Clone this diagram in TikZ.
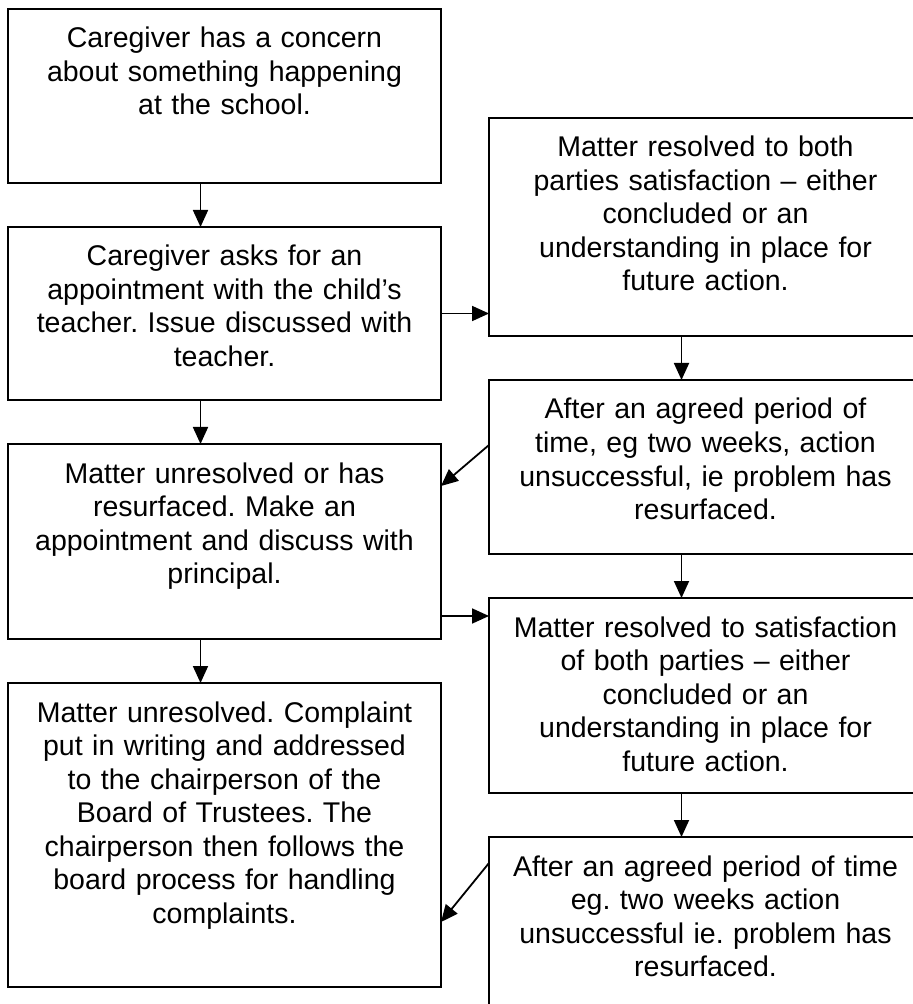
\documentclass[tikz,border=0pt]{standalone}
\usepackage{fontspec}
\setmainfont{Liberation Sans}
\usepackage{tikz}
\usetikzlibrary{arrows.meta, positioning}
\frenchspacing
\tikzstyle{process} = [rectangle, draw=black, line width=1pt, outer sep=0pt, minimum width=216.5pt, text width=208.5pt, inner xsep=4pt, inner ysep=0pt, align=center, font=\fontsize{14.25pt}{16.75pt}\selectfont, text height=19.5pt]
\tikzstyle{arrow} = [line width=0.9pt, -{Triangle[length=8.5pt, width=7.5pt]}]

\begin{document}
\begin{tikzpicture}[node distance=22pt]
\useasboundingbox (0,0) rectangle (456pt,-502pt);

\node (concern) [process, anchor=north west, text depth=67.5pt] at (4pt,-4.5pt) {Caregiver has a concern\\about something happening\\at the school.};
\node (teacher) [process, below=of concern, text depth=67pt] {Caregiver asks for an\\appointment with the child’s\\teacher. Issue discussed with\\teacher.};
\node (principal) [process, below=of teacher, text depth=78pt] {Matter unresolved or has\\resurfaced. Make an\\appointment and discuss with\\principal.};
\node (board) [process, below=of principal, text depth=132.5pt] {Matter unresolved. Complaint\\put in writing and addressed\\to the chairperson of the\\Board of Trustees. The\\chairperson then follows the\\board process for handling\\complaints.};

\node (resolvedA) [process, below right=54.5pt and 24pt of concern.north east, text depth=89.5pt] {Matter resolved to both\\parties satisfaction – either\\concluded or an\\understanding in place for\\future action.};
\node (resurfacedA) [process, below=of resolvedA, text depth=67.5pt] {After an agreed period of\\time, eg two weeks, action\\unsuccessful, ie problem has\\resurfaced.};
\node (resolvedB) [process, below=of resurfacedA, text depth=78pt] {Matter resolved to satisfaction\\of both parties – either\\concluded or an\\understanding in place for\\future action.};
\node (resurfacedB) [process, below=of resolvedB, text depth=69.5pt] {After an agreed period of time\\eg. two weeks action\\unsuccessful ie. problem has\\resurfaced.};

\draw [arrow] ([xshift=-12pt]concern.south) -- ([xshift=-12pt]teacher.north);
\draw [arrow] ([xshift=-12pt]teacher.south) -- ([xshift=-12pt]principal.north);
\draw [arrow] ([xshift=-12pt]principal.south) -- ([xshift=-12pt]board.north);
\draw [arrow] (teacher.east) -- (teacher.east -| resolvedA.west);
\draw [arrow] ([xshift=-12pt]resolvedA.south) -- ([xshift=-12pt]resurfacedA.north);
\draw [arrow] ([yshift=-32.5pt]resurfacedA.north west) -- ([yshift=-21pt]principal.north east);
\draw [arrow] ([xshift=-12pt]resurfacedA.south) -- ([xshift=-12pt]resolvedB.north);
\draw [arrow] ([yshift=11.5pt]principal.south east) -- ([yshift=11.5pt]principal.south east -| resolvedB.west);
\draw [arrow] ([xshift=-12pt]resolvedB.south) -- ([xshift=-12pt]resurfacedB.north);
\draw [arrow] ([yshift=-13pt]resurfacedB.north west) -- ([yshift=-119.5pt]board.north east);

\end{tikzpicture}
\end{document}
